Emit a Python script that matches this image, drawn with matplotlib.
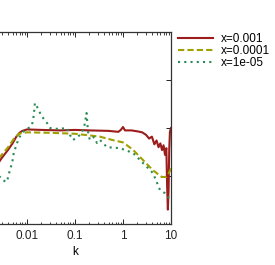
import numpy as np
import matplotlib.pyplot as plt

plt.rcParams['font.family'] = ['Liberation Sans', 'DejaVu Sans']

# x=0.001
k_a = [0.002, 0.003, 0.004, 0.005, 0.006, 0.007, 0.008, 0.01, 0.02, 0.05,
       0.1, 0.2, 0.5, 0.8, 0.9, 1.0, 1.1, 1.5, 2.0, 2.5, 3.0, 3.5, 4.0, 4.5,
       5.0, 5.5, 6.0, 6.5, 7.0, 7.5, 8.0, 8.3, 8.6, 8.9, 9.2, 9.5, 10.0]
y_a = [0.56, 0.69, 0.77, 0.84, 0.91, 0.95, 0.97, 0.985, 0.98, 0.975,
       0.98, 0.975, 0.97, 0.96, 0.98, 1.01, 0.975, 0.975, 0.965, 0.955,
       0.93, 0.89, 0.91, 0.83, 0.87, 0.80, 0.84, 0.77, 0.82, 0.72,
       0.79, 0.40, 0.15, 0.35, 0.78, 0.96, 1.0]

# x=0.0001
k_b = [0.002, 0.00274, 0.0039, 0.0053, 0.0068, 0.01, 0.03, 0.1, 0.33,
       0.6, 1.0, 1.6, 2.6, 4.2, 6.4, 8.0, 9.0, 10.0]
y_b = [0.6, 0.70, 0.79, 0.885, 0.94, 0.955, 0.95, 0.94, 0.91,
       0.875, 0.85, 0.775, 0.667, 0.56, 0.49, 0.49, 0.53, 0.58]

# x=1e-05
k_c = [0.002, 0.00274, 0.0031, 0.00375, 0.0039, 0.0044, 0.0049, 0.0053,
       0.0062, 0.0070, 0.0082, 0.01, 0.0116, 0.0128, 0.0139, 0.0146, 0.0162,
       0.0187, 0.0226, 0.0263, 0.0303, 0.0447, 0.0681, 0.0784, 0.091, 0.111,
       0.127, 0.154, 0.174, 0.182, 0.19, 0.205, 0.248, 0.287, 0.332, 0.464,
       0.866, 1.62, 2.61, 4.22, 5.9, 7.5, 8.66, 10.0]
y_c = [0.54, 0.49, 0.458, 0.4375, 0.458, 0.5625, 0.635, 0.74,
       0.844, 0.906, 0.958, 0.99, 1.01, 1.04, 1.135, 1.26, 1.22,
       1.156, 1.09, 1.05, 1.0, 0.99, 1.0, 0.927, 0.875, 0.906,
       0.927, 1.0, 1.156, 1.03, 0.927, 0.875, 0.906, 0.844, 0.875, 0.80,
       0.79, 0.74, 0.635, 0.53, 0.354, 0.32, 0.28, 0.25]

fig = plt.figure(figsize=(2.75, 2.65), dpi=100)
# the left part of the axes lies outside the picture, as in the reference
ax = fig.add_axes([-21 / 275, 41 / 265, 192 / 275, 192 / 265])

ax.plot(k_a, y_a, color='#9c1c1c', lw=1.5, label='x=0.001')
ax.plot(k_b, y_b, color='#a0a000', lw=1.5, dashes=(3, 1.5), label='x=0.0001')
ax.plot(k_c, y_c, color='#2a8a55', lw=1.5, dashes=(1, 2.0), label='x=1e-05')

ax.set_xscale('log')
ax.set_xlim(1e-3, 10)
ax.set_ylim(0, 2)
ax.set_yticks([0, 0.5, 1, 1.5, 2])
ax.set_xticks([0.01, 0.1, 1, 10])
ax.set_xticklabels(['0.01', '0.1', '1', '10'])
ax.tick_params(which='both', direction='in', top=True, right=True,
               labelleft=False, labelsize=8.5, colors='#222222', pad=4)
ax.tick_params(which='major', length=3.5, width=0.7)
ax.tick_params(which='minor', length=1.8, width=0.6)
for s in ax.spines.values():
    s.set_color('#333333')
    s.set_linewidth(0.9)
ax.set_xlabel('k', fontsize=8.5, labelpad=3)

fig.legend(loc='upper left', bbox_to_anchor=(178 / 275, 1 - 33 / 265),
           bbox_transform=fig.transFigure, frameon=False, fontsize=8.5,
           handlelength=3.0, handletextpad=0.65, labelspacing=0.02,
           borderpad=0, borderaxespad=0)

fig.savefig('out.png', dpi=100)
